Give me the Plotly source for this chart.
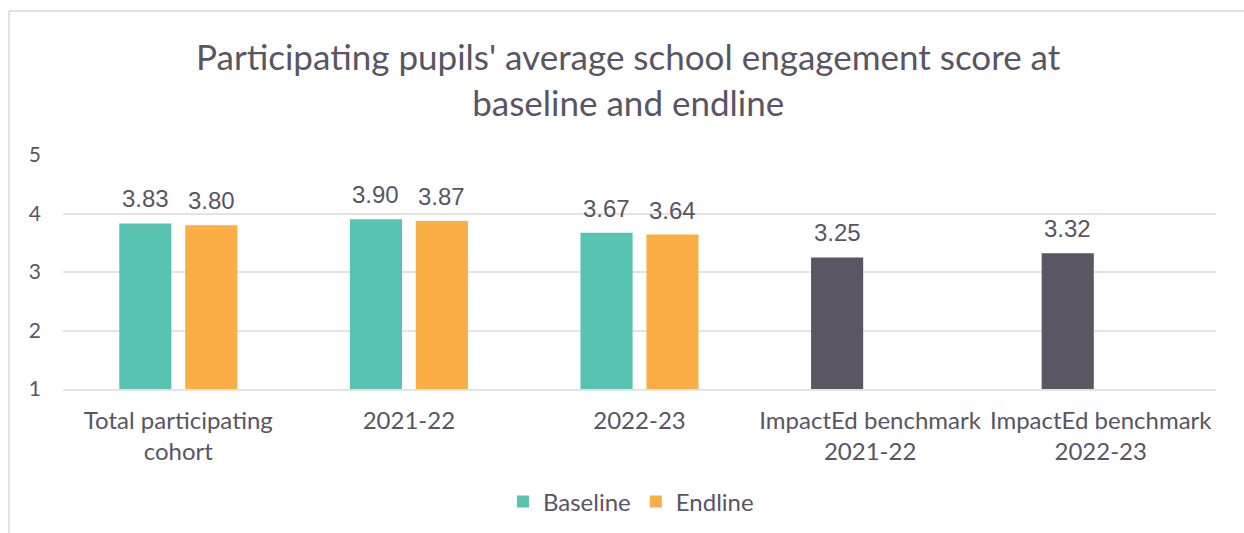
import plotly.graph_objects as go

categories = ["Total participating<br>cohort", "2021-22", "2022-23",
              "ImpactEd benchmark<br>2021-22", "ImpactEd benchmark<br>2022-23"]
baseline = [3.83, 3.90, 3.67, 3.25, 3.32]
endline = [3.80, 3.87, 3.64, None, None]
baseline_colors = ["#57C3B0", "#57C3B0", "#57C3B0", "#5B5664", "#5B5664"]
endline_color = "#FBAE45"
y_ticks = [1, 2, 3, 4, 5]

TXT = "#595563"
GRID = "#E3E3E3"

fig = go.Figure()
fig.add_trace(go.Bar(name="Baseline", x=categories, y=baseline,
                     marker=dict(color=baseline_colors, line=dict(width=0))))
fig.add_trace(go.Bar(name="Endline", x=categories, y=endline,
                     marker=dict(color=endline_color, line=dict(width=0))))

annotations = []
for c, v in zip(categories, baseline):
    if v is not None:
        annotations.append(dict(x=c, y=v, xref="x", yref="y", text=f"{v:.2f}",
                                showarrow=False, yanchor="bottom", xshift=-33, yshift=9,
                                font=dict(family="Liberation Sans", size=24, color=TXT)))
for c, v in zip(categories, endline):
    if v is not None:
        annotations.append(dict(x=c, y=v, xref="x", yref="y", text=f"{v:.2f}",
                                showarrow=False, yanchor="bottom", xshift=33, yshift=9,
                                font=dict(family="Liberation Sans", size=24, color=TXT)))

fig.update_layout(
    width=1244, height=533,
    margin=dict(l=63, r=28, t=155, b=144, autoexpand=False),
    paper_bgcolor="white", plot_bgcolor="white",
    barmode="group", bargap=0.428, bargroupgap=0.21,
    font=dict(family="Lato", color=TXT, size=24),
    title=dict(text="Participating pupils' average school engagement score at<br>baseline and endline",
               x=0.505, xanchor="center", y=0.868, yanchor="middle",
               font=dict(family="Lato", size=35, color=TXT)),
    xaxis=dict(showgrid=False, showline=True, linecolor=GRID, linewidth=2, automargin=False,
               tickfont=dict(size=24, color=TXT), ticklabelstandoff=9),
    yaxis=dict(range=[1, 5], tickvals=y_ticks, showgrid=True, gridcolor=GRID, gridwidth=2,
               zeroline=False, showline=False, automargin=False,
               tickfont=dict(size=21, color=TXT), ticklabelstandoff=21),
    legend=dict(orientation="h", x=0.4926, xanchor="center", y=-0.483, yanchor="middle",
                font=dict(size=24, color=TXT), traceorder="normal"),
    annotations=annotations,
    shapes=[
        dict(type="line", xref="paper", yref="paper", x0=-0.0468, x1=-0.0468, y0=-1, y1=1.615,
             line=dict(color="#D9D9D9", width=1.5)),
        dict(type="line", xref="paper", yref="paper", x0=-0.0468, x1=1.2, y0=1.615, y1=1.615,
             line=dict(color="#D9D9D9", width=1.5)),
    ],
)

fig.write_html("out.html")
